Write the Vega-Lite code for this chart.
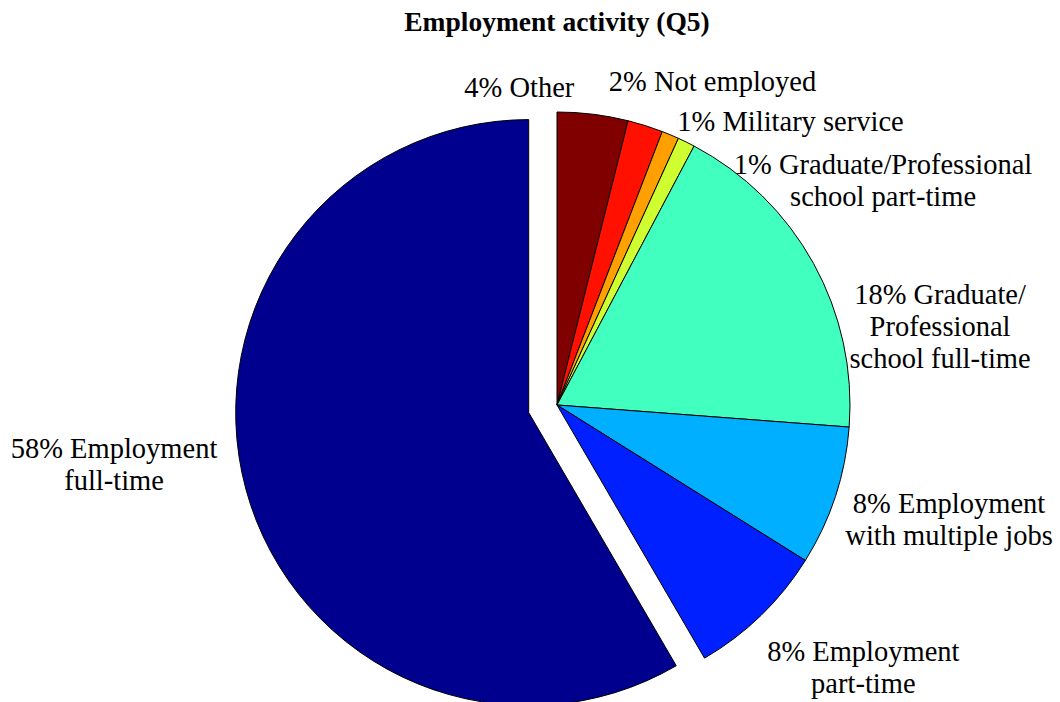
{
  "$schema": "https://vega.github.io/schema/vega-lite/v6.json",
  "width": 1006,
  "height": 594,
  "autosize": {"type": "none"},
  "padding": {"left": 54, "top": 108, "right": 0, "bottom": 0},
  "background": "white",
  "config": {"view": {"stroke": null}},
  "title": {
    "text": "Employment activity (Q5)",
    "font": "'Liberation Serif', 'Times New Roman', serif",
    "fontSize": 27.5,
    "fontWeight": "bold",
    "color": "black",
    "anchor": "middle",
    "offset": -15
  },
  "data": {
    "values": [
      {"idx": 1, "name": "Other", "value": 3.9, "label": "4% Other"},
      {"idx": 2, "name": "Not employed", "value": 1.95, "label": "2% Not employed"},
      {"idx": 3, "name": "Military service", "value": 0.95, "label": "1% Military service"},
      {"idx": 4, "name": "Graduate/Professional school part-time", "value": 0.95, "label": ["1% Graduate/Professional", "school part-time"]},
      {"idx": 5, "name": "Graduate/Professional school full-time", "value": 18.45, "label": ["18% Graduate/", "Professional", "school full-time"]},
      {"idx": 6, "name": "Employment with multiple jobs", "value": 7.7, "label": ["8% Employment", "with multiple jobs"]},
      {"idx": 7, "name": "Employment part-time", "value": 7.7, "label": ["8% Employment", "part-time"]},
      {"idx": 8, "name": "Employment full-time", "value": 58.4, "label": ["58% Employment", "full-time"]}
    ]
  },
  "encoding": {
    "theta": {"field": "value", "type": "quantitative", "stack": true},
    "order": {"field": "idx", "type": "quantitative"}
  },
  "layer": [
    {
      "mark": {"type": "arc", "outerRadius": 293, "stroke": "black", "strokeWidth": 1},
      "encoding": {
        "color": {
          "field": "name", "type": "nominal", "legend": null,
          "scale": {
            "domain": ["Other", "Not employed", "Military service", "Graduate/Professional school part-time", "Graduate/Professional school full-time", "Employment with multiple jobs", "Employment part-time", "Employment full-time"],
            "range": ["#800000", "#FF1000", "#FF9F00", "#CFFF30", "#40FFBF", "#00AFFF", "#0020FF", "#00008F"]
          }
        },
        "opacity": {"condition": {"test": "datum.name === 'Employment full-time'", "value": 0}, "value": 1}
      }
    },
    {
      "mark": {"type": "arc", "outerRadius": 293, "stroke": "black", "strokeWidth": 1, "xOffset": -28.3, "yOffset": 7.6},
      "encoding": {
        "color": {"field": "name", "type": "nominal", "legend": null},
        "opacity": {"condition": {"test": "datum.name === 'Employment full-time'", "value": 1}, "value": 0}
      }
    },
    {
      "mark": {"type": "text", "radius": 330, "font": "'Liberation Serif', 'Times New Roman', serif", "fontSize": 28.5, "lineHeight": 32, "align": "center", "baseline": "middle", "color": "black", "dx": -78, "dy": 11},
      "encoding": {"text": {"condition": {"test": "datum.name === 'Other'", "field": "label"}, "value": ""}}
    },
    {
      "mark": {"type": "text", "radius": 330, "font": "'Liberation Serif', 'Times New Roman', serif", "fontSize": 28.5, "lineHeight": 32, "align": "center", "baseline": "middle", "color": "black", "dx": 56, "dy": -8.7},
      "encoding": {"text": {"condition": {"test": "datum.name === 'Not employed'", "field": "label"}, "value": ""}}
    },
    {
      "mark": {"type": "text", "radius": 330, "font": "'Liberation Serif', 'Times New Roman', serif", "fontSize": 28.5, "lineHeight": 32, "align": "center", "baseline": "middle", "color": "black", "dx": 105.8, "dy": 21.6},
      "encoding": {"text": {"condition": {"test": "datum.name === 'Military service'", "field": "label"}, "value": ""}}
    },
    {
      "mark": {"type": "text", "radius": 330, "font": "'Liberation Serif', 'Times New Roman', serif", "fontSize": 28.5, "lineHeight": 32, "align": "center", "baseline": "middle", "color": "black", "dx": 180.4, "dy": 56.4},
      "encoding": {"text": {"condition": {"test": "datum.name === 'Graduate/Professional school part-time'", "field": "label"}, "value": ""}}
    },
    {
      "mark": {"type": "text", "radius": 330, "font": "'Liberation Serif', 'Times New Roman', serif", "fontSize": 28.5, "lineHeight": 32, "align": "center", "baseline": "middle", "color": "black", "dx": 94.1, "dy": 49.1},
      "encoding": {"text": {"condition": {"test": "datum.name === 'Graduate/Professional school full-time'", "field": "label"}, "value": ""}}
    },
    {
      "mark": {"type": "text", "radius": 330, "font": "'Liberation Serif', 'Times New Roman', serif", "fontSize": 28.5, "lineHeight": 32, "align": "center", "baseline": "middle", "color": "black", "dx": 78.5, "dy": -4.1},
      "encoding": {"text": {"condition": {"test": "datum.name === 'Employment with multiple jobs'", "field": "label"}, "value": ""}}
    },
    {
      "mark": {"type": "text", "radius": 330, "font": "'Liberation Serif', 'Times New Roman', serif", "fontSize": 28.5, "lineHeight": 32, "align": "center", "baseline": "middle", "color": "black", "dx": 76.7, "dy": 10.4},
      "encoding": {"text": {"condition": {"test": "datum.name === 'Employment part-time'", "field": "label"}, "value": ""}}
    },
    {
      "mark": {"type": "text", "radius": 330, "font": "'Liberation Serif', 'Times New Roman', serif", "fontSize": 28.5, "lineHeight": 32, "align": "center", "baseline": "middle", "color": "black", "dx": -124.4, "dy": -42},
      "encoding": {"text": {"condition": {"test": "datum.name === 'Employment full-time'", "field": "label"}, "value": ""}}
    }
  ]
}
